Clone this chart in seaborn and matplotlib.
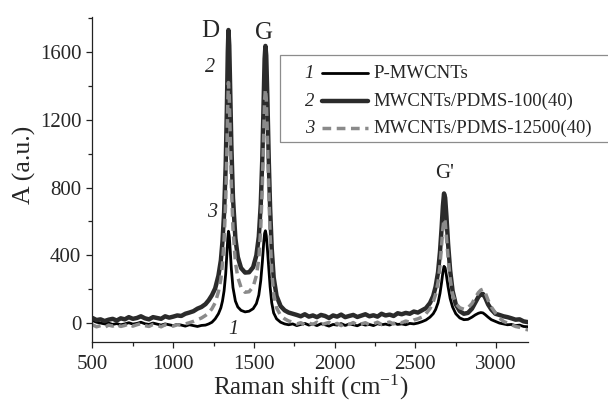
import matplotlib
matplotlib.use("Agg")
import matplotlib.pyplot as plt
import seaborn as sns
import pandas as pd
from matplotlib.ticker import MultipleLocator
from matplotlib.lines import Line2D
from matplotlib.patches import Rectangle

# ---------------- data ----------------
wavenumber = [
    500, 525, 550, 575, 600, 625, 650, 675, 700, 725, 750, 775, 800, 825, 850,
    875, 900, 925, 950, 975, 1000, 1025, 1050, 1075, 1100, 1125, 1150, 1175, 1200,
    1220, 1240, 1260, 1280, 1295, 1305, 1315, 1325, 1332, 1338, 1342, 1347, 1353,
    1360, 1370, 1385, 1400, 1420, 1445, 1470, 1495, 1515, 1530, 1542, 1552, 1560,
    1566, 1571, 1576, 1583, 1592, 1600, 1610, 1622, 1640, 1665, 1690,
    1715, 1740, 1765, 1790, 1815, 1840, 1865, 1890, 1915, 1940, 1965, 1990, 2015,
    2040, 2065, 2090, 2115, 2140, 2165, 2190, 2215, 2240, 2265, 2290, 2315, 2340,
    2365, 2390, 2415, 2440, 2465, 2490, 2515, 2540, 2565, 2590,
    2610, 2625, 2640, 2652, 2662, 2670, 2677, 2684, 2692, 2702, 2715, 2730, 2750,
    2775, 2800, 2825, 2850, 2870, 2890, 2905, 2918, 2932, 2950, 2970,
    2995, 3020, 3045, 3070, 3095, 3120, 3145, 3170, 3200,
]

# 1: P-MWCNTs
p_mwcnts = [
    15, 5, 0, -5, 0, -8, -3, -10, -5, 2, -6, -2, 5, -4, -8,
    0, -6, -12, -5, -10, -15, -8, -12, -18, -10, -15, -20, -14, -12,
    -5, 5, 25, 55, 90, 130, 190, 290, 400, 500, 542, 515, 430,
    320, 210, 130, 95, 75, 66, 70, 85, 115, 165, 250, 360, 470,
    530, 545, 520, 440, 320, 215, 120, 60, 25, 5, -5,
    -10, -5, -15, -8, -2, -12, -6, -15, -4, -10, -18, -8, -12,
    -3, -14, -6, -10, -16, -5, -12, -8, -15, -4, -10, -6, -12,
    0, -8, -5, -10, -2, -5, 0, 8, 18, 35,
    55, 80, 120, 175, 240, 300, 335, 325, 280, 215, 145, 95, 55,
    30, 20, 22, 35, 48, 58, 62, 60, 50, 35, 20,
    10, 0, -5, -10, -8, -15, -12, -20, -22,
]

# 2: MWCNTs/PDMS-100(40)
pdms_100 = [
    30, 18, 22, 12, 20, 25, 15, 28, 22, 35, 25, 30, 40, 28, 22,
    35, 30, 25, 40, 32, 38, 45, 42, 55, 62, 70, 85, 95, 112,
    135, 165, 205, 280, 370, 480, 650, 930, 1250, 1600, 1730, 1640, 1380,
    1050, 740, 500, 390, 325, 298, 300, 330, 400, 510, 700, 980, 1320,
    1560, 1636, 1580, 1330, 950, 680, 440, 270, 160, 100, 75,
    62, 55, 48, 40, 52, 38, 45, 35, 48, 42, 30, 45, 38,
    50, 35, 42, 48, 36, 44, 52, 40, 46, 38, 55, 45, 50,
    42, 58, 52, 60, 55, 68, 62, 75, 88, 118,
    160, 215, 300, 420, 560, 690, 765, 740, 630, 470, 310, 190, 110,
    70, 55, 60, 85, 120, 155, 170, 172, 150, 110, 80,
    55, 48, 40, 35, 28, 20, 22, 10, 5,
]

# 3: MWCNTs/PDMS-12500(40)
pdms_12500 = [
    -10, -22, -15, -25, -12, -18, -8, -20, -14, -5, -18, -10, -3, -15, -20,
    -8, -12, -22, -10, -15, -18, -10, -12, -5, 2, 10, 20, 30, 45,
    60, 85, 120, 185, 260, 350, 490, 720, 1000, 1300, 1420, 1340, 1110,
    820, 560, 360, 270, 210, 182, 185, 215, 280, 380, 560, 820, 1110,
    1320, 1380, 1330, 1110, 780, 520, 310, 170, 90, 45, 25,
    12, 5, -5, 2, -10, 0, -8, 5, -12, -3, 4, -10, -2,
    -15, 0, -8, 3, -12, -5, 2, -10, -4, 5, -8, 0, 6,
    -5, 8, 2, 12, 5, 18, 25, 35, 55, 85,
    125, 170, 240, 340, 460, 560, 615, 600, 510, 390, 260, 170, 115,
    90, 82, 90, 115, 150, 180, 195, 200, 180, 135, 95,
    60, 30, 10, 0, -10, -20, -25, -35, -40,
]

series_labels = ["P-MWCNTs", "MWCNTs/PDMS-100(40)", "MWCNTs/PDMS-12500(40)"]
series_numbers = ["1", "2", "3"]
x_ticks = [500, 1000, 1500, 2000, 2500, 3000]
y_ticks = [0, 400, 800, 1200, 1600]

# ---------------- style ----------------
sns.set_style("ticks")
plt.rcParams["font.family"] = ["Liberation Serif", "DejaVu Serif"]
plt.rcParams["mathtext.fontset"] = "custom"
plt.rcParams["mathtext.rm"] = "Liberation Serif"
plt.rcParams["mathtext.it"] = "Liberation Serif:italic"

df = pd.DataFrame({"x": wavenumber, "s1": p_mwcnts, "s2": pdms_100, "s3": pdms_12500})

fig = plt.figure(figsize=(6.08, 4.11), dpi=100)
ax = fig.add_axes([0.1521, 0.1686, 0.7171, 0.7893])

styles = [
    dict(color="#000000", lw=2.0, linestyle="-"),
    dict(color="#2b2b2b", lw=3.2, linestyle="-"),
    dict(color="#8a8a8a", lw=2.5, linestyle=(0, (2.5, 1.6))),
]

sns.lineplot(data=df, x="x", y="s1", ax=ax, estimator=None, sort=False, **styles[0])
sns.lineplot(data=df, x="x", y="s2", ax=ax, estimator=None, sort=False, **styles[1])
sns.lineplot(data=df, x="x", y="s3", ax=ax, estimator=None, sort=False, **styles[2])

ax.set_xlim(500, 3200)
ax.set_ylim(-110, 1805)
ax.set_xticks(x_ticks)
ax.set_yticks(y_ticks)
ax.xaxis.set_minor_locator(MultipleLocator(250))
ax.yaxis.set_minor_locator(MultipleLocator(200))
sns.despine(ax=ax)
for sp in ("left", "bottom"):
    ax.spines[sp].set_linewidth(0.9)
    ax.spines[sp].set_color("#222222")
ax.tick_params(which="major", length=4.5, width=0.9, color="#222222",
               labelsize=15, direction="out")
ax.tick_params(axis="x", which="major", pad=5)
ax.tick_params(axis="y", which="major", pad=3.5)
ax.tick_params(which="minor", length=2.8, width=0.9, color="#222222", direction="out")

ax.set_xlabel("Raman shift (cm$^{\\mathregular{-1}}$)", fontsize=18)
ax.set_ylabel("A (a.u.)", fontsize=18.5)
ax.xaxis.set_label_coords(0.5, -0.142)
ax.xaxis.label.set_verticalalignment("center")
ax.yaxis.set_label_coords(-0.155, 0.545)
ax.yaxis.label.set_verticalalignment("center")

# peak annotations
ax.text(1228, 1722, "D", fontsize=18, ha="center", va="center")
ax.text(1562, 1715, "G", fontsize=18, ha="center", va="center")
ax.text(2683, 880, "G'", fontsize=15, ha="center", va="center")
ax.text(1231, 1510, "2", fontsize=14.5, style="italic", ha="center", va="center")
ax.text(1238, 652, "3", fontsize=14.5, style="italic", ha="center", va="center")
ax.text(1372, -40, "1", fontsize=14.5, style="italic", ha="center", va="center")

# legend (drawn manually in figure pixels)
W, H = 608, 411
fx = lambda px: px / W
fy = lambda py: 1 - py / H
fig.add_artist(Rectangle((fx(280), fy(142)), fx(400), 87 / H, transform=fig.transFigure,
                         fill=False, edgecolor="#8c8c8c", linewidth=0.9))
rows = [73, 101, 128]
for i, (num, lab) in enumerate(zip(series_numbers, series_labels)):
    y = rows[i]
    st = styles[i]
    fig.add_artist(Line2D([fx(322), fx(368)], [fy(y), fy(y)], transform=fig.transFigure,
                          color=st["color"], lw=st["lw"], linestyle=st["linestyle"]))
    fig.text(fx(314), fy(y), num, fontsize=13.5, style="italic", ha="right", va="center")
    fig.text(fx(373), fy(y), lab, fontsize=13.5, ha="left", va="center")

fig.savefig("out.png", dpi=100)
